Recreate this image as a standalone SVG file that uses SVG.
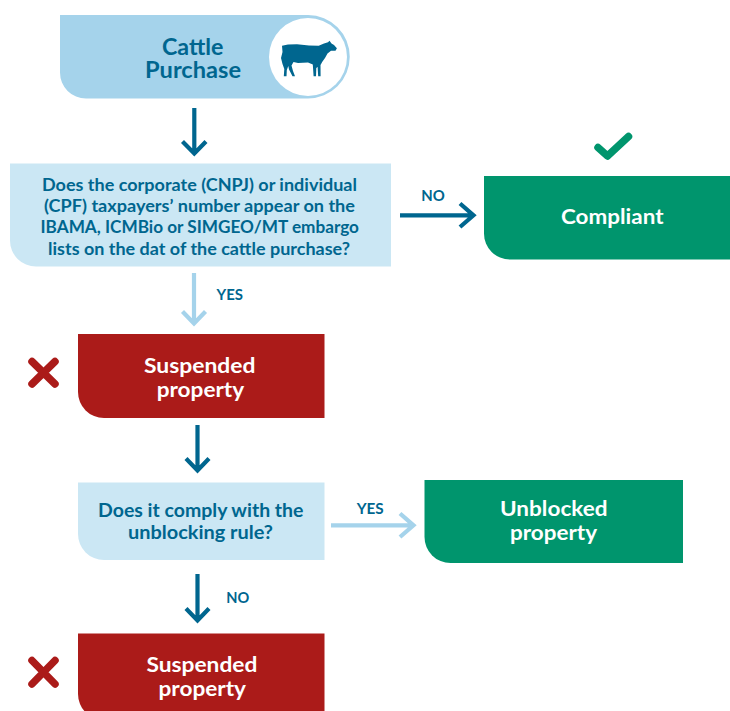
<svg xmlns="http://www.w3.org/2000/svg" width="730" height="711" viewBox="0 0 730 711">
<style>
text{font-family:Lato,"Open Sans","Liberation Sans",sans-serif;font-weight:700}
.w{fill:#fff;font-size:20px}
.d{fill:#00668f;font-size:16.5px}
.h{fill:#00668f;font-size:22.5px}
.q{fill:#00668f;font-size:18.3px}
.l{fill:#00668f;font-size:15px}
.dark{fill:none;stroke:#00668f;stroke-width:4.2}
.light{fill:none;stroke:#a5d3eb;stroke-width:4.2}
.mark{fill:none;stroke-width:7.5;stroke-linecap:round;stroke-linejoin:round}
</style>
<rect width="730" height="711" fill="#fff"/>
<g id="start">
<path d="M60 15H308A41.7 41.7 0 0 1 308 98.5H86A26 26 0 0 1 60 72.5Z" fill="#a5d3eb"/>
<circle cx="308" cy="57" r="39" fill="#fff"/>
<path d="M282 45.7L288 44.5L297 44.3L309 45.5L318.7 45.7L324 43.5L328 42.3L329.5 40.8L331.5 43.5L334 45L336.9 48.3L335.5 50.7L331 50.8L327.5 53.5L325 58L322.5 61.5L320.5 65L320.6 76.2H318.2L317.6 67L316.3 68L316 76.2H313.6L312.8 64.5L308 62.5L298 63L293.5 62L291.5 65.5L293 71L295 76.2H292.5L289 69.5L288.3 66L286.8 70L286.5 76.2H283.8L284.3 69L282.5 64L281 58L282.5 52Z" fill="#00668f"/>
<text class="h" x="162" y="54.5" textLength="61.5" lengthAdjust="spacingAndGlyphs">Cattle</text>
<text class="h" x="145" y="77.5" textLength="96" lengthAdjust="spacingAndGlyphs">Purchase</text>
</g>
<g id="question1">
<path d="M10 163.5H391V266.5H36A26 26 0 0 1 10 240.5Z" fill="#cbe7f4"/>
<text class="d" x="42" y="190.7" textLength="315" lengthAdjust="spacingAndGlyphs">Does the corporate (CNPJ) or individual</text>
<text class="d" x="44" y="212" textLength="311" lengthAdjust="spacingAndGlyphs">(CPF) taxpayers’ number appear on the</text>
<text class="d" x="40.5" y="233.3" textLength="318.5" lengthAdjust="spacingAndGlyphs">IBAMA, ICMBio or SIMGEO/MT embargo</text>
<text class="d" x="48" y="255" textLength="302" lengthAdjust="spacingAndGlyphs">lists on the dat of the cattle purchase?</text>
</g>
<g id="compliant">
<path d="M484 176H730V259.5H510A26 26 0 0 1 484 233.5Z" fill="#00956d"/>
<path class="mark" d="M598 147.5L607.5 156L628.5 136.5" stroke="#00956d"/>
<text class="w" x="561" y="223.5" textLength="102.5" lengthAdjust="spacingAndGlyphs">Compliant</text>
</g>
<g id="suspended1">
<path d="M78 334H324.5V418H104A26 26 0 0 1 78 392Z" fill="#ab1b19"/>
<path class="mark" d="M32 361.5L55 384M55 361.5L32 384" stroke="#ab1b19"/>
<text class="w" x="144" y="372.7" textLength="111.5" lengthAdjust="spacingAndGlyphs">Suspended</text>
<text class="w" x="156.7" y="396.7" textLength="87.5" lengthAdjust="spacingAndGlyphs">property</text>
</g>
<g id="question2">
<path d="M78 482.5H324.5V560H104A26 26 0 0 1 78 534Z" fill="#cbe7f4"/>
<text class="q" x="98" y="516.7" textLength="205.5" lengthAdjust="spacingAndGlyphs">Does it comply with the</text>
<text class="q" x="128" y="539" textLength="145" lengthAdjust="spacingAndGlyphs">unblocking rule?</text>
</g>
<g id="unblocked">
<path d="M424.5 480H683V563H450.5A26 26 0 0 1 424.5 537Z" fill="#00956d"/>
<text class="w" x="500" y="515.8" textLength="107.5" lengthAdjust="spacingAndGlyphs">Unblocked</text>
<text class="w" x="510" y="539.8" textLength="87" lengthAdjust="spacingAndGlyphs">property</text>
</g>
<g id="suspended2">
<path d="M78 633.5H324.5V720H104A26 26 0 0 1 78 694Z" fill="#ab1b19"/>
<path class="mark" d="M32 660.5L55 684M55 660.5L32 684" stroke="#ab1b19"/>
<text class="w" x="146.4" y="672.2" textLength="111" lengthAdjust="spacingAndGlyphs">Suspended</text>
<text class="w" x="158.5" y="696.2" textLength="87.5" lengthAdjust="spacingAndGlyphs">property</text>
</g>
<g id="connectors">
<path class="dark" d="M194.3 108V153.5M182.5 141.5L194.3 153.5L206 141.5"/>
<path class="dark" d="M400 215.3H473.5M460 203.5L473.5 215.3L460 227"/>
<path class="light" d="M194 273V323.5M182.5 311.5L194 323.5L205.5 311.5"/>
<path class="dark" d="M197.5 425V470.5M186 458.5L197.5 470.5L209 458.5"/>
<path class="light" d="M331 525.3H413.5M400 513.5L413.5 525.3L400 537"/>
<path class="dark" d="M197.5 574V620.5M186 608.5L197.5 620.5L209 608.5"/>
<text class="l" x="421.3" y="201" textLength="23.5" lengthAdjust="spacingAndGlyphs">NO</text>
<text class="l" x="216.5" y="300" textLength="26.5" lengthAdjust="spacingAndGlyphs">YES</text>
<text class="l" x="356.7" y="514" textLength="27" lengthAdjust="spacingAndGlyphs">YES</text>
<text class="l" x="226.3" y="603" textLength="23" lengthAdjust="spacingAndGlyphs">NO</text>
</g>
</svg>
